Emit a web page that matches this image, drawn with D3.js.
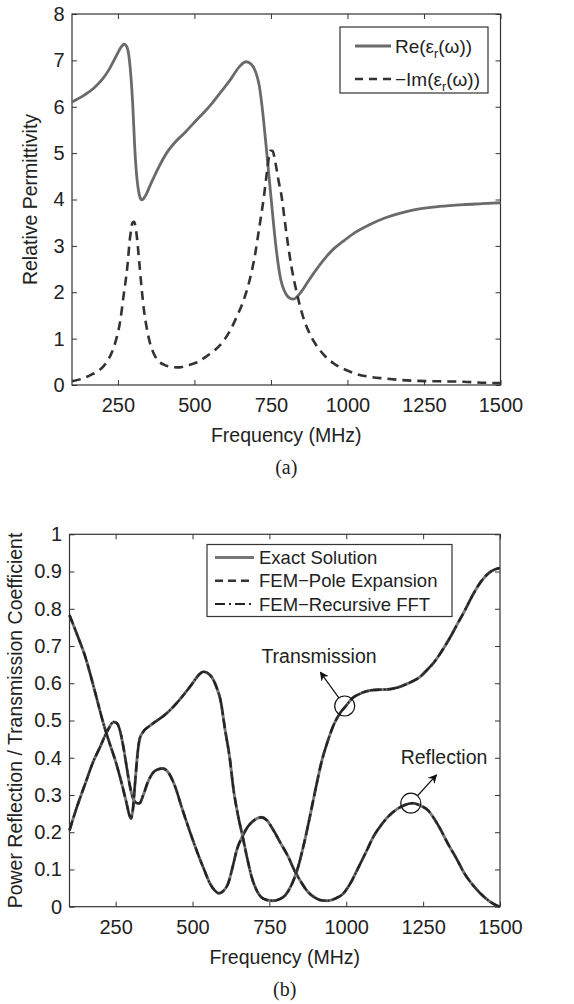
<!DOCTYPE html>
<html>
<head>
<meta charset="utf-8">
<script src="https://cdn.jsdelivr.net/npm/d3@7"></script>
<style>
  body { margin: 0; background: #fff; }
  svg { display: block; }
  text { font-family: "Liberation Sans", Arial, Helvetica, sans-serif; fill: #222; }
  .cap { font-family: "Liberation Serif", "Times New Roman", serif; }
</style>
</head>
<body>
<div id="chart"></div>
<script>
// ---- panel (a): relative permittivity ----
var freqTicks = [250, 500, 750, 1000, 1250, 1500];
var permTicks = [0, 1, 2, 3, 4, 5, 6, 7, 8];

var reFreq = [100, 140, 171, 200, 221, 245, 262, 270, 280, 290, 298, 306, 313, 320, 328, 340, 355, 379, 409, 439,
  470, 498, 530, 558, 590, 617, 645, 669, 685, 700, 712, 722, 735, 750, 765, 780, 800, 812, 823, 835,
  850, 870, 894, 925, 954, 990, 1023, 1070, 1122, 1170, 1221, 1300, 1379, 1440, 1500];
var reVal = [6.1, 6.25, 6.4, 6.6, 6.8, 7.1, 7.3, 7.35, 7.28, 6.85, 6.1, 5.0, 4.4, 4.1, 3.99, 4.08, 4.3, 4.64, 5.0, 5.25,
  5.45, 5.65, 5.87, 6.08, 6.35, 6.58, 6.85, 6.97, 6.92, 6.75, 6.45, 5.95, 5.1, 4.06, 3.06, 2.34, 1.95, 1.87, 1.85, 1.9,
  2.02, 2.22, 2.45, 2.72, 2.93, 3.12, 3.28, 3.45, 3.6, 3.7, 3.78, 3.85, 3.89, 3.91, 3.93];

var imFreq = [100, 130, 162, 190, 211, 230, 245, 258, 268, 280, 290, 298, 303, 310, 320, 328, 335, 345, 355, 367,
  379, 400, 425, 450, 475, 509, 540, 568, 595, 618, 640, 657, 678, 697, 712, 727, 738, 748, 755, 765,
  775, 785, 795, 805, 817, 830, 842, 855, 875, 894, 920, 954, 990, 1023, 1070, 1122, 1170, 1221, 1300, 1379, 1440, 1500];
var imVal = [0.08, 0.13, 0.22, 0.32, 0.47, 0.7, 1.0, 1.4, 1.9, 2.5, 3.2, 3.5, 3.52, 3.3, 2.63, 2.05, 1.62, 1.2, 0.9, 0.68,
  0.54, 0.44, 0.39, 0.38, 0.42, 0.49, 0.62, 0.76, 0.95, 1.19, 1.5, 1.76, 2.2, 2.77, 3.4, 4.06, 4.65, 5.05, 5.05, 4.78,
  4.4, 4.06, 3.55, 3.06, 2.55, 2.12, 1.78, 1.47, 1.13, 0.9, 0.67, 0.47, 0.34, 0.25, 0.18, 0.14, 0.11, 0.09, 0.08, 0.07, 0.05, 0.04];

// ---- panel (b): power reflection / transmission ----
var coefTicks = [0, 0.1, 0.2, 0.3, 0.4, 0.5, 0.6, 0.7, 0.8, 0.9, 1];

var transFreq = [100, 125, 151, 181, 211, 230, 250, 270, 285, 295, 300, 306, 313, 320, 328, 340, 360, 385, 410, 450,
  480, 500, 520, 535, 550, 566, 580, 591, 606, 621, 633, 648, 663, 678, 693, 708, 723, 742, 762, 782,
  801, 820, 841, 860, 880, 900, 920, 940, 960, 980, 1000, 1020, 1040, 1065, 1089, 1115, 1139, 1165, 1188, 1215,
  1238, 1262, 1287, 1312, 1337, 1362, 1386, 1410, 1440, 1470, 1500];
var transVal = [0.783, 0.73, 0.672, 0.583, 0.49, 0.44, 0.39, 0.33, 0.28, 0.245, 0.237, 0.26, 0.33, 0.40, 0.45, 0.47, 0.485, 0.50, 0.515, 0.548,
  0.578, 0.60, 0.622, 0.631, 0.627, 0.612, 0.585, 0.555, 0.475, 0.40, 0.317, 0.245, 0.189, 0.13, 0.078, 0.045, 0.026, 0.018, 0.016, 0.02,
  0.03, 0.055, 0.1, 0.16, 0.235, 0.315, 0.39, 0.445, 0.49, 0.52, 0.54, 0.56, 0.57, 0.578, 0.582, 0.583, 0.584, 0.588, 0.595, 0.605,
  0.616, 0.635, 0.658, 0.688, 0.722, 0.76, 0.796, 0.835, 0.875, 0.9, 0.91];

var reflFreq = [100, 125, 151, 175, 200, 222, 244, 255, 265, 275, 285, 295, 305, 315, 327, 340, 355, 370, 385, 403,
  420, 440, 468, 490, 517, 540, 557, 572, 586, 600, 616, 630, 645, 663, 680, 700, 723, 742, 762, 787,
  812, 830, 851, 875, 901, 920, 940, 965, 990, 1015, 1040, 1065, 1089, 1114, 1139, 1165, 1190, 1215, 1240, 1267,
  1287, 1307, 1330, 1356, 1386, 1420, 1450, 1480, 1500];
var reflVal = [0.205, 0.27, 0.33, 0.385, 0.43, 0.47, 0.496, 0.492, 0.47, 0.43, 0.38, 0.33, 0.295, 0.28, 0.277, 0.30, 0.335, 0.358, 0.368, 0.371,
  0.362, 0.33, 0.259, 0.205, 0.143, 0.095, 0.062, 0.044, 0.036, 0.042, 0.0625, 0.105, 0.155, 0.19, 0.215, 0.232, 0.24, 0.232, 0.207, 0.17,
  0.133, 0.1, 0.069, 0.04, 0.023, 0.017, 0.016, 0.022, 0.035, 0.065, 0.106, 0.148, 0.189, 0.22, 0.244, 0.262, 0.273, 0.278, 0.272, 0.258,
  0.235, 0.207, 0.17, 0.133, 0.087, 0.05, 0.025, 0.007, 0.0];

var methods = ["Exact Solution", "FEM\u2212Pole Expansion", "FEM\u2212Recursive FFT"];

var W = 574, H = 1004;
var svg = d3.select("#chart").append("svg").attr("width", W).attr("height", H);

function zip(xs, ys) { return xs.map(function (f, i) { return {f: f, v: ys[i]}; }); }

function panel(box, yDomain, yTicks, yFmt, yLabel, yLabelX, caption) {
  var x = d3.scaleLinear().domain([100, 1500]).range([box.left, box.right]);
  var y = d3.scaleLinear().domain(yDomain).range([box.bottom, box.top]);
  var g = svg.append("g");

  g.append("g").attr("transform", "translate(0," + box.bottom + ")")
    .call(d3.axisBottom(x).tickValues(freqTicks).tickSize(-5).tickPadding(13).tickFormat(d3.format("d")));
  g.append("g").attr("transform", "translate(0," + box.top + ")")
    .call(d3.axisTop(x).tickValues(freqTicks).tickSize(-5).tickFormat(""));
  g.append("g").attr("transform", "translate(" + box.left + ",0)")
    .call(d3.axisLeft(y).tickValues(yTicks).tickSize(-5).tickPadding(7.5).tickFormat(yFmt));
  g.append("g").attr("transform", "translate(" + box.right + ",0)")
    .call(d3.axisRight(y).tickValues(yTicks).tickSize(-5).tickFormat(""));
  g.selectAll(".domain").remove();
  g.selectAll(".tick line").attr("stroke", "#333");
  g.selectAll(".tick text").attr("font-size", 20).attr("fill", "#222")
    .attr("font-family", "Liberation Sans, Arial, sans-serif");

  g.append("rect").attr("x", box.left).attr("y", box.top)
    .attr("width", box.right - box.left).attr("height", box.bottom - box.top)
    .attr("fill", "none").attr("stroke", "#333").attr("stroke-width", 1.2);

  g.append("text").attr("x", (box.left + box.right) / 2).attr("y", box.bottom + 57)
    .attr("text-anchor", "middle").attr("font-size", 19.5).text("Frequency (MHz)");
  g.append("text").attr("transform", "translate(" + yLabelX + "," + (box.top + box.bottom) / 2 + ") rotate(-90)")
    .attr("text-anchor", "middle").attr("dy", "0.35em").attr("font-size", 19.5).text(yLabel);
  g.append("text").attr("class", "cap").attr("x", (box.left + box.right) / 2).attr("y", box.bottom + 89)
    .attr("text-anchor", "middle").attr("font-size", 20).text(caption);

  var line = d3.line().x(function (d) { return x(d.f); }).y(function (d) { return y(d.v); })
    .curve(d3.curveMonotoneX);
  return {x: x, y: y, g: g, line: line};
}

// ---- panel (a) ----
var pa = panel({left: 72, right: 500.5, top: 14, bottom: 385}, [0, 8], permTicks, d3.format("d"),
  "Relative Permittivity", 30, "(a)");

pa.g.append("path").datum(zip(reFreq, reVal)).attr("d", pa.line)
  .attr("fill", "none").attr("stroke", "#6a6a6a").attr("stroke-width", 2.8);
pa.g.append("path").datum(zip(imFreq, imVal)).attr("d", pa.line)
  .attr("fill", "none").attr("stroke", "#333").attr("stroke-width", 2.6).attr("stroke-dasharray", "9,6");

var la = pa.g.append("g");
la.append("rect").attr("x", 340).attr("y", 27).attr("width", 148).attr("height", 66)
  .attr("fill", "#fff").attr("stroke", "#333").attr("stroke-width", 1.2);
la.append("line").attr("x1", 355).attr("x2", 391).attr("y1", 46).attr("y2", 46)
  .attr("stroke", "#6a6a6a").attr("stroke-width", 2.8);
la.append("line").attr("x1", 355).attr("x2", 391).attr("y1", 79).attr("y2", 79)
  .attr("stroke", "#333").attr("stroke-width", 2.6).attr("stroke-dasharray", "8,6");
function epsLabel(sel, prefix, yy) {
  var t = sel.append("text").attr("x", 395).attr("y", yy).attr("font-size", 19);
  t.append("tspan").text(prefix + "(\u03b5");
  t.append("tspan").attr("font-size", 12.5).attr("dy", 5).text("r");
  t.append("tspan").attr("dy", -5).text("(\u03c9))");
}
epsLabel(la, "Re", 52.5);
epsLabel(la, "\u2212Im", 86);

// ---- panel (b) ----
var pb = panel({left: 69.5, right: 500, top: 534.3, bottom: 906.7}, [0, 1], coefTicks,
  function (d) { return d === 0 || d === 1 ? d3.format("d")(d) : d3.format(".1f")(d); },
  "Power Reflection / Transmission Coefficient", 15, "(b)");

var styles = [
  {stroke: "#777", width: 2.9, dash: null},
  {stroke: "#333", width: 2.4, dash: "8,5"},
  {stroke: "#222", width: 2.0, dash: "10,4,2,4"}
];
[zip(reflFreq, reflVal), zip(transFreq, transVal)].forEach(function (curve) {
  methods.forEach(function (m, i) {
    pb.g.append("path").datum(curve).attr("d", pb.line).attr("fill", "none")
      .attr("stroke", styles[i].stroke).attr("stroke-width", styles[i].width)
      .attr("stroke-dasharray", styles[i].dash);
  });
});

var lb = pb.g.append("g");
lb.append("rect").attr("x", 207).attr("y", 544.5).attr("width", 245).attr("height", 72)
  .attr("fill", "#fff").attr("stroke", "#333").attr("stroke-width", 1.2);
methods.forEach(function (m, i) {
  var yy = 557.5 + i * 23.3;
  lb.append("line").attr("x1", 215).attr("x2", 254).attr("y1", yy).attr("y2", yy)
    .attr("stroke", styles[i].stroke).attr("stroke-width", styles[i].width)
    .attr("stroke-dasharray", styles[i].dash);
  lb.append("text").attr("x", 259).attr("y", yy).attr("dy", "0.35em").attr("font-size", 18.5).text(m);
});

// annotations
svg.append("defs").append("marker").attr("id", "arr").attr("viewBox", "0 0 10 10")
  .attr("refX", 9).attr("refY", 5).attr("markerWidth", 9).attr("markerHeight", 9)
  .attr("markerUnits", "userSpaceOnUse").attr("orient", "auto")
  .append("path").attr("d", "M0,0 L10,5 L0,10 L3,5 Z").attr("fill", "#111");

var notes = [
  {label: "Transmission", f: 995, v: 0.539, dx: -24.3, dy: -33.7, tx: 319, ty: 656},
  {label: "Reflection", f: 1210, v: 0.278, dx: 25.7, dy: -28.3, tx: 444, ty: 757}
];
notes.forEach(function (n) {
  var cx = pb.x(n.f), cy = pb.y(n.v), len = Math.sqrt(n.dx * n.dx + n.dy * n.dy);
  pb.g.append("circle").attr("cx", cx).attr("cy", cy).attr("r", 10)
    .attr("fill", "none").attr("stroke", "#111").attr("stroke-width", 1.2);
  pb.g.append("line").attr("x1", cx + n.dx / len * 10).attr("y1", cy + n.dy / len * 10)
    .attr("x2", cx + n.dx).attr("y2", cy + n.dy)
    .attr("stroke", "#111").attr("stroke-width", 1.2).attr("marker-end", "url(#arr)");
  pb.g.append("text").attr("x", n.tx).attr("y", n.ty).attr("dy", "0.35em")
    .attr("text-anchor", "middle").attr("font-size", 19.5).text(n.label);
});
</script>
</body>
</html>
